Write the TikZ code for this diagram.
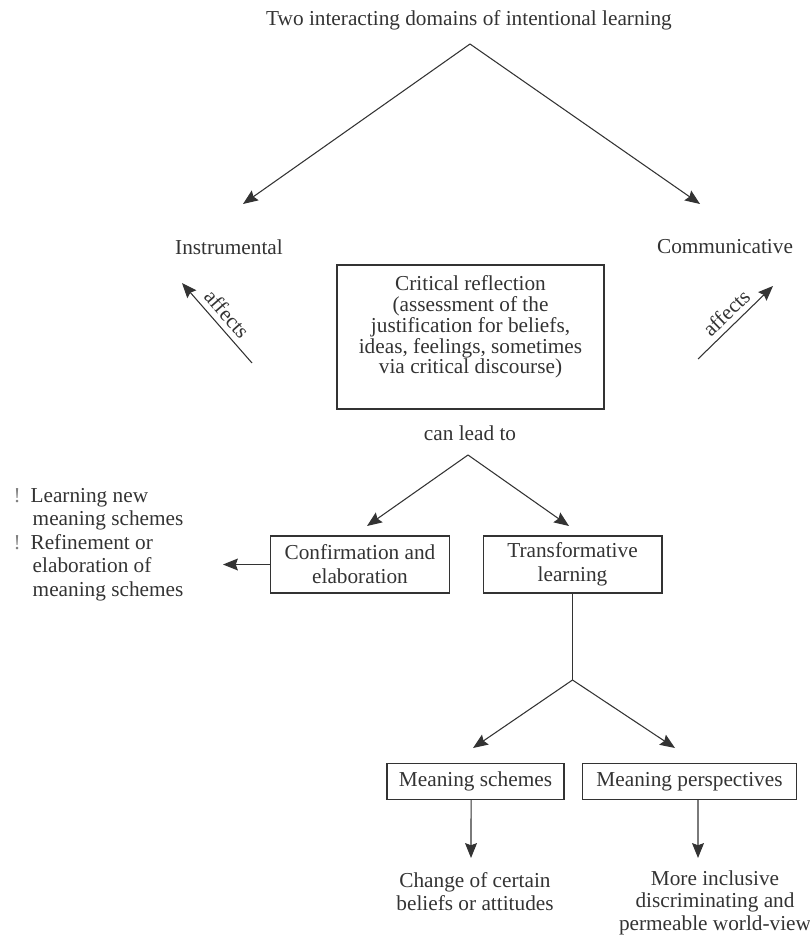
\documentclass[tikz,border=0pt]{standalone}
\usepackage{fontspec}
\setmainfont{Liberation Serif}
\usepackage{tikz}
\usetikzlibrary{arrows.meta, positioning}
\definecolor{ink}{gray}{0.2}

\begin{document}
\begin{tikzpicture}[x=0.47pt, y=-0.47pt,
    txt/.style={text=ink, inner sep=1pt, align=center, font=\fontsize{10}{10.7}\selectfont},
    box/.style={draw=ink, line width=0.5pt, text=ink, align=center, inner sep=0pt, font=\fontsize{10}{11.2}\selectfont},
    arr/.style={draw=ink, line width=0.5pt, -{Stealth[length=7pt, width=5.6pt, inset=1pt]}}]

    \useasboundingbox (0,0) rectangle (809,938);

    % --- TWO DOMAINS ---
    \node[txt] (title) at (469,20) {Two interacting domains of intentional learning};
    \coordinate (fork1) at (470,44);
    \coordinate (instrtip) at (243,204);
    \coordinate (commtip) at (700,204);
    \node[txt] (instr) at (229,247) {Instrumental};
    \node[txt] (comm) at (725,247) {Communicative};
    \draw[arr] (fork1) -- (instrtip);
    \draw[arr] (fork1) -- (commtip);

    % --- CRITICAL REFLECTION ---
    \node[box] (crit) at (470.5,337) {\parbox[c][67.7pt][t]{125.5pt}{\centering\fontsize{10}{9.8}\selectfont\vspace*{5pt}Critical reflection\\ (assessment of the\\ justification for beliefs,\\ ideas, feelings, sometimes\\ via critical discourse)}};

    \coordinate (affl0) at (252,363);
    \coordinate (affl1) at (182,283);
    \coordinate (affr0) at (698,359);
    \coordinate (affr1) at (773,286);
    \draw[arr] (affl0) -- (affl1) node[txt, midway, sloped, above, inner sep=2.5pt] {affects};
    \draw[arr] (affr0) -- (affr1) node[txt, midway, sloped, above, inner sep=2.5pt] {affects};

    % --- CAN LEAD TO ---
    \node[txt] (lead) at (470,433) {can lead to};
    \coordinate (fork2) at (468,455);
    \coordinate (conftip) at (367,526);
    \coordinate (transtip) at (569,526);
    \node[box, minimum width=83.7pt, minimum height=26.8pt] (conf) at (360,564.5) {Confirmation and\\ elaboration};
    \node[box, minimum width=84.1pt, minimum height=26.8pt] (trans) at (572.5,564.5) {Transformative\\ learning};
    \draw[arr] (fork2) -- (conftip);
    \draw[arr] (fork2) -- (transtip);

    % --- CONFIRMATION PATH ---
    \coordinate (listtip) at (223,564.5);
    \node[txt, align=left, anchor=west, font=\fontsize{10}{11.1}\selectfont] (ideas) at (11,544.5) {\makebox[8pt][l]{\color{gray}!}Learning new\\ \hspace*{9pt}meaning schemes\\ \makebox[8pt][l]{\color{gray}!}Refinement or\\ \hspace*{9pt}elaboration of\\ \hspace*{9pt}meaning schemes};
    \draw[arr] (conf.west) -- (listtip);

    % --- TRANSFORMATIVE PATH ---
    \coordinate (fork3) at (572.5,680);
    \draw[draw=ink, line width=0.5pt] (trans.south) -- (fork3);
    \coordinate (schemestip0) at (473,748);
    \coordinate (persptip0) at (675,748);
    \node[box, minimum width=83.2pt, minimum height=16.5pt] (schemes) at (475.5,781.5) {Meaning schemes};
    \node[box, minimum width=101pt, minimum height=16.5pt] (persp) at (689.5,781.5) {Meaning perspectives};
    \draw[arr] (fork3) -- (schemestip0);
    \draw[arr] (fork3) -- (persptip0);

    \node[txt] (change) at (475,891.5) {Change of certain\\ beliefs or attitudes};
    \node[txt, font=\fontsize{10}{10.6}\selectfont] (world) at (715,902.5) {More inclusive\\ discriminating and\\ permeable world-view};
    \coordinate (schemestip1) at (471,858);
    \coordinate (persptip1) at (698,858);
    \draw[arr] ([xshift=-2.1pt]schemes.south) -- (schemestip1);
    \draw[arr] ([xshift=4pt]persp.south) -- (persptip1);

\end{tikzpicture}
\end{document}
